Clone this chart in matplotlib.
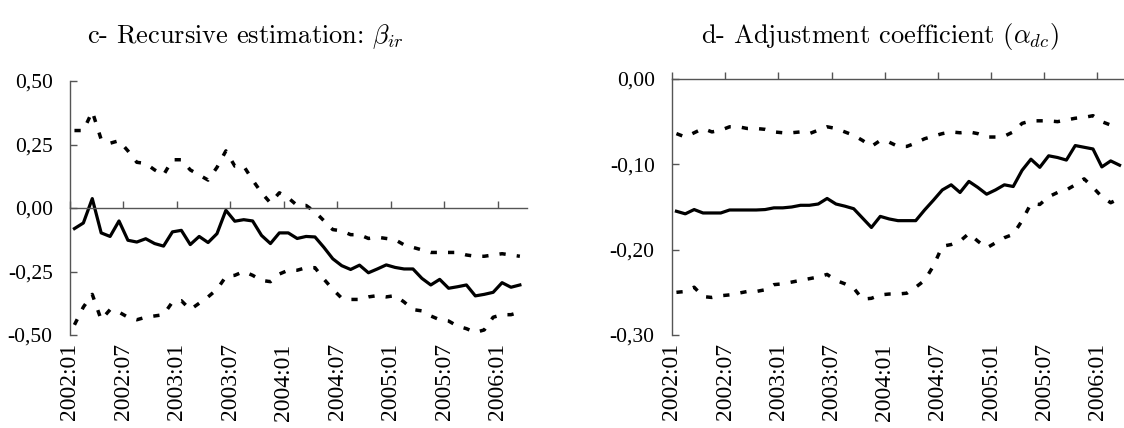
import numpy as np
import matplotlib
matplotlib.use("Agg")
import matplotlib.pyplot as plt

# monthly observations 2002:01 .. 2006:03
months = ["%d:%02d" % (2002 + m // 12, m % 12 + 1) for m in range(51)]
tick_labels = ['2002:01', '2002:07', '2003:01', '2003:07', '2004:01',
               '2004:07', '2005:01', '2005:07', '2006:01']

# c- recursive beta_ir and its bands
beta = [-0.081, -0.059, 0.037, -0.098, -0.112, -0.051, -0.127, -0.134, -0.121, -0.140,
        -0.150, -0.094, -0.088, -0.144, -0.112, -0.136, -0.101, -0.009, -0.052, -0.046,
        -0.051, -0.108, -0.140, -0.098, -0.098, -0.120, -0.112, -0.114, -0.155, -0.200,
        -0.227, -0.242, -0.225, -0.255, -0.240, -0.224, -0.234, -0.240, -0.240, -0.277,
        -0.303, -0.281, -0.316, -0.310, -0.303, -0.346, -0.340, -0.332, -0.294, -0.312,
        -0.303]
beta_up = [0.305, 0.305, 0.38, 0.27, 0.255, 0.265, 0.225, 0.18, 0.175, 0.15,
           0.13, 0.19, 0.19, 0.15, 0.13, 0.11, 0.16, 0.225, 0.165, 0.165,
           0.11, 0.06, 0.02, 0.06, 0.04, 0.01, 0.01, -0.015, -0.05, -0.085,
           -0.09, -0.105, -0.105, -0.12, -0.115, -0.12, -0.125, -0.145, -0.155, -0.165,
           -0.175, -0.175, -0.175, -0.175, -0.185, -0.19, -0.19, -0.185, -0.18, -0.185,
           -0.19]
beta_lo = [-0.46, -0.39, -0.34, -0.44, -0.40, -0.41, -0.43, -0.44, -0.43, -0.425,
           -0.42, -0.37, -0.365, -0.40, -0.375, -0.35, -0.32, -0.27, -0.265, -0.25,
           -0.265, -0.285, -0.29, -0.26, -0.245, -0.245, -0.235, -0.235, -0.28, -0.32,
           -0.355, -0.36, -0.36, -0.35, -0.345, -0.35, -0.345, -0.37, -0.40, -0.405,
           -0.425, -0.44, -0.445, -0.465, -0.475, -0.49, -0.48, -0.43, -0.42, -0.42,
           -0.41]

# d- adjustment coefficient alpha_dc and its bands
alpha = [-0.155, -0.158, -0.153, -0.157, -0.157, -0.157, -0.1535, -0.1535, -0.1535, -0.1535,
         -0.153, -0.151, -0.151, -0.150, -0.148, -0.148, -0.1465, -0.140, -0.1465, -0.149,
         -0.152, -0.163, -0.174, -0.161, -0.164, -0.166, -0.166, -0.166, -0.1535, -0.142,
         -0.130, -0.124, -0.133, -0.120, -0.127, -0.135, -0.130, -0.124, -0.126, -0.107,
         -0.094, -0.1035, -0.090, -0.092, -0.095, -0.078, -0.080, -0.082, -0.103, -0.096,
         -0.101]
alpha_up = [-0.064, -0.068, -0.063, -0.058, -0.062, -0.060, -0.056, -0.056, -0.058, -0.058,
            -0.059, -0.062, -0.063, -0.063, -0.062, -0.064, -0.060, -0.056, -0.058, -0.062,
            -0.066, -0.072, -0.079, -0.072, -0.074, -0.079, -0.079, -0.075, -0.070, -0.067,
            -0.064, -0.062, -0.063, -0.062, -0.064, -0.068, -0.068, -0.067, -0.062, -0.052,
            -0.049, -0.049, -0.049, -0.050, -0.048, -0.046, -0.045, -0.043, -0.050, -0.054,
            -0.052]
alpha_lo = [-0.250, -0.249, -0.244, -0.255, -0.256, -0.254, -0.253, -0.251, -0.249, -0.249,
            -0.247, -0.241, -0.240, -0.238, -0.236, -0.234, -0.232, -0.229, -0.236, -0.240,
            -0.245, -0.258, -0.257, -0.253, -0.252, -0.252, -0.251, -0.244, -0.236, -0.219,
            -0.196, -0.194, -0.190, -0.181, -0.190, -0.198, -0.192, -0.186, -0.182, -0.166,
            -0.146, -0.147, -0.138, -0.133, -0.130, -0.124, -0.117, -0.127, -0.138, -0.145,
            -0.140]

plt.rcParams['mathtext.fontset'] = 'cm'
x = np.arange(len(months))
ticks = [-0.5 + 6 * k for k in range(len(tick_labels))]
spine_col = '#555555'
dash = (0, (1.8, 3.2))

fig = plt.figure(figsize=(11.24, 4.28), dpi=100)
ax1 = fig.add_axes([70 / 1124, 1 - 335 / 428, 457 / 1124, 254 / 428])
ax2 = fig.add_axes([672 / 1124, 1 - 335 / 428, 452 / 1124, 256 / 428])


def style(ax, yticks, ylabels, ylim, xlim, xpos):
    ax.set_xlim(*xlim)
    ax.set_ylim(*ylim)
    ax.spines['right'].set_visible(False)
    ax.spines['bottom'].set_visible(False)
    ax.spines['top'].set_position(('data', xpos))
    for s in ('left', 'top'):
        ax.spines[s].set_color(spine_col)
        ax.spines[s].set_linewidth(1.0)
    ax.set_xticks(ticks)
    ax.set_xticklabels(tick_labels, rotation=90, fontsize=17, family='Liberation Serif')
    ax.tick_params(axis='x', bottom=False, top=True, labelbottom=True, labeltop=False,
                   direction='out', length=5, width=1, color=spine_col, pad=1)
    ax.set_yticks(yticks)
    ax.set_yticklabels(ylabels, fontsize=15.5, family='Liberation Serif')
    ax.tick_params(axis='y', direction='in', length=5, width=1, color=spine_col, pad=12.5)


ax1.plot(x, beta_up, color='black', lw=2.5, linestyle=dash)
ax1.plot(x, beta_lo, color='black', lw=2.5, linestyle=dash)
ax1.plot(x, beta, color='black', lw=2.3)
style(ax1, [0.5, 0.25, 0.0, -0.25, -0.5], ['0,50', '0,25', '0,00', '-0,25', '-0,50'],
      (-0.5, 0.5), (-0.5, 50.8), 0.0)

ax2.plot(x, alpha_up, color='black', lw=2.5, linestyle=dash)
ax2.plot(x, alpha_lo, color='black', lw=2.5, linestyle=dash)
ax2.plot(x, alpha, color='black', lw=2.3)
style(ax2, [0.0, -0.1, -0.2, -0.3], ['0,00', '-0,10', '-0,20', '-0,30'],
      (-0.3, 0.0), (-0.5, 50.5), 0.0)

fig.text(0.218, 0.915, r"c- Recursive estimation: $\beta_{ir}$", family='cmr10',
         fontsize=19, ha='center', va='center')
fig.text(0.783, 0.915, r"d- Adjustment coefficient ($\alpha_{dc}$)", family='cmr10',
         fontsize=19, ha='center', va='center')

fig.savefig("out.png", dpi=100)
